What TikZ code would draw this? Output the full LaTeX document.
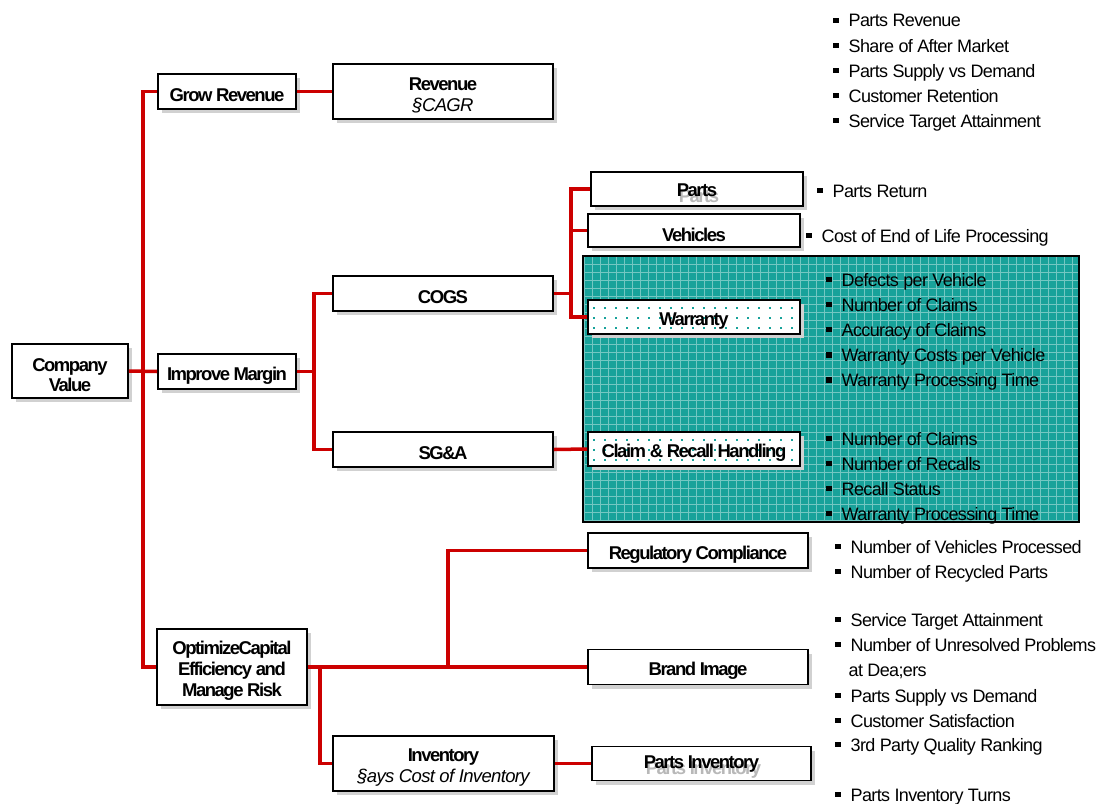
\documentclass[tikz,border=0pt]{standalone}
\usepackage{fontspec}
\setmainfont{Liberation Sans}[LetterSpace=-3.5,BoldFeatures={LetterSpace=-8}]
\usetikzlibrary{shadows,calc}
\definecolor{linkred}{RGB}{204,0,0}
\definecolor{panelteal}{RGB}{24,162,154}
\newcommand{\sqbullet}{\raisebox{0.2em}{\rule{5.5pt}{5.5pt}}\hspace{10pt}}
\newcommand{\ghosted}[1]{\rlap{\raisebox{-6pt}{\hspace{2pt}\color{black!28}#1}}#1}
\newcommand{\subline}[1]{{\mdseries\itshape #1}}

\begin{document}
\begin{tikzpicture}[x=1pt,y=-1pt,
  box/.style={draw=black, line width=1.8pt, fill=white, inner sep=0pt,
    drop shadow={shadow xshift=4pt, shadow yshift=-4pt, fill=black!18, opacity=1}},
  boxtext/.style={align=center, inner sep=0pt, yshift=-4pt,
    font=\fontsize{18.5}{20}\selectfont\bfseries},
  dotted box/.style={box, path picture={
      \foreach \i in {0,...,19} \foreach \j in {0,...,2}
        \fill[panelteal] ($(path picture bounding box.north west)+(5+11*\i,7+10*\j)$) rectangle ++(2,2);}},
  conn/.style={draw=linkred, line width=3.5pt},
  metric/.style={anchor=base west, inner sep=0pt, font=\fontsize{18}{20}\selectfont}
]
\useasboundingbox (0,0) rectangle (1099,803);

% shaded panel behind the warranty and recall metrics
\fill[panelteal] (583,256) rectangle (1079,522);
\begin{scope}
  \clip (583,256) rectangle (1079,522);
  \draw[white, opacity=0.4, line width=0.8pt, step=8pt] (580,250) grid (1085,530);
\end{scope}
\draw[black, line width=2pt] (583,256) rectangle (1079,522);

% tree nodes
\node[box, minimum width=116pt, minimum height=54pt,
  label={[boxtext]center:Company\\Value}] (cv) at (70,371) {};
\node[box, minimum width=138pt, minimum height=35pt,
  label={[boxtext]center:Grow Revenue}] (grow) at (227,91.5) {};
\node[box, minimum width=220pt, minimum height=55pt,
  label={[boxtext, font=\fontsize{18.5}{21}\selectfont\bfseries]center:Revenue\\\subline{§CAGR}}] (rev) at (443,91.5) {};
\node[box, minimum width=138pt, minimum height=35pt,
  label={[boxtext]center:Improve Margin}] (imp) at (227,371.5) {};
\node[box, minimum width=220pt, minimum height=35pt,
  label={[boxtext]center:COGS}] (cogs) at (443,293.5) {};
\node[box, minimum width=220pt, minimum height=35pt,
  label={[boxtext]center:SG\&A}] (sga) at (443,449.5) {};
\node[box, minimum width=212pt, minimum height=34pt,
  label={[boxtext]center:\ghosted{Parts}}] (parts) at (697,189) {};
\node[box, minimum width=212pt, minimum height=33pt,
  label={[boxtext]center:Vehicles}] (veh) at (694,230.5) {};
\node[dotted box, minimum width=212pt, minimum height=34pt,
  label={[boxtext]center:Warranty}] (warr) at (694,317) {};
\node[dotted box, minimum width=212pt, minimum height=34pt,
  label={[boxtext]center:Claim \& Recall Handling}] (claim) at (694,449) {};
\node[box, minimum width=150pt, minimum height=76pt,
  label={[boxtext, font=\fontsize{18.5}{21}\selectfont\bfseries]center:OptimizeCapital\\Efficiency and\\Manage Risk}] (opt) at (232,667) {};
\node[box, minimum width=220pt, minimum height=35pt,
  label={[boxtext]center:Regulatory Compliance}] (reg) at (698,550.5) {};
\node[box, minimum width=220pt, minimum height=35pt,
  label={[boxtext]center:Brand Image}] (brand) at (698,667) {};
\node[box, minimum width=221pt, minimum height=55pt,
  label={[boxtext, font=\fontsize{18.5}{21}\selectfont\bfseries]center:Inventory\\\subline{§ays Cost of Inventory}}] (inv) at (443.5,763.5) {};
\node[box, minimum width=219pt, minimum height=34pt,
  label={[boxtext]center:\ghosted{Parts Inventory}}] (pinv) at (701.5,763.5) {};

% branch points of the red connectors
\coordinate (trunk) at (143,0);
\coordinate (mb) at (314,0);
\coordinate (cb) at (571,0);
\coordinate (ob) at (448,0);
\coordinate (ib) at (320,0);

% connectors
\draw[conn] (cv.east) -- (imp.west);
\draw[conn] (grow.west) -- (grow.west -| trunk) |- (opt.west);
\draw[conn] (grow.east) -- (rev.west);
\draw[conn] (imp.east) -- (imp.east -| mb);
\draw[conn] (cogs.west) -- (cogs.west -| mb) |- (sga.west);
\draw[conn] (cogs.east) -- (cogs.east -| cb);
\draw[conn] (parts.west) -- (parts.west -| cb) |- (warr.west);
\draw[conn] (veh.west) -- (veh.west -| cb);
\draw[conn] (sga.east) -- (claim.west);
\draw[conn] (opt.east) -- (brand.west);
\draw[conn] (opt.east -| ob) |- (reg.west);
\draw[conn] (opt.east -| ib) |- (inv.west);
\draw[conn] (inv.east) -- (pinv.west);

% metrics
\node[metric] (m1) at (833,27) {\sqbullet Parts Revenue};
\node[metric] (m2) at (833,52) {\sqbullet Share of After Market};
\node[metric] (m3) at (833,77) {\sqbullet Parts Supply vs Demand};
\node[metric] (m4) at (833,102) {\sqbullet Customer Retention};
\node[metric] (m5) at (833,127) {\sqbullet Service Target Attainment};

\node[metric] (m6) at (817,197) {\sqbullet Parts Return};
\node[metric] (m7) at (806,242) {\sqbullet Cost of End of Life Processing};

\node[metric] (w1) at (826,286) {\sqbullet Defects per Vehicle};
\node[metric] (w2) at (826,311) {\sqbullet Number of Claims};
\node[metric] (w3) at (826,336) {\sqbullet Accuracy of Claims};
\node[metric] (w4) at (826,361.5) {\sqbullet Warranty Costs per Vehicle};
\node[metric] (w5) at (826,386.5) {\sqbullet Warranty Processing Time};

\node[metric] (c1) at (826,445) {\sqbullet Number of Claims};
\node[metric] (c2) at (826,470) {\sqbullet Number of Recalls};
\node[metric] (c3) at (826,495) {\sqbullet Recall Status};
\node[metric] (c4) at (826,520) {\sqbullet Warranty Processing Time};

\node[metric] (r1) at (835,553) {\sqbullet Number of Vehicles Processed};
\node[metric] (r2) at (835,578) {\sqbullet Number of Recycled Parts};

\node[metric] (b1) at (835,626) {\sqbullet Service Target Attainment};
\node[metric] (b2) at (835,651) {\sqbullet Number of Unresolved Problems};
\node[metric] (b3) at (848.5,676) {at Dea;ers};
\node[metric] (b4) at (835,702) {\sqbullet Parts Supply vs Demand};
\node[metric] (b5) at (835,727) {\sqbullet Customer Satisfaction};
\node[metric] (b6) at (835,751) {\sqbullet 3rd Party Quality Ranking};

\node[metric] (p1) at (835,801) {\sqbullet Parts Inventory Turns};
\end{tikzpicture}
\end{document}
